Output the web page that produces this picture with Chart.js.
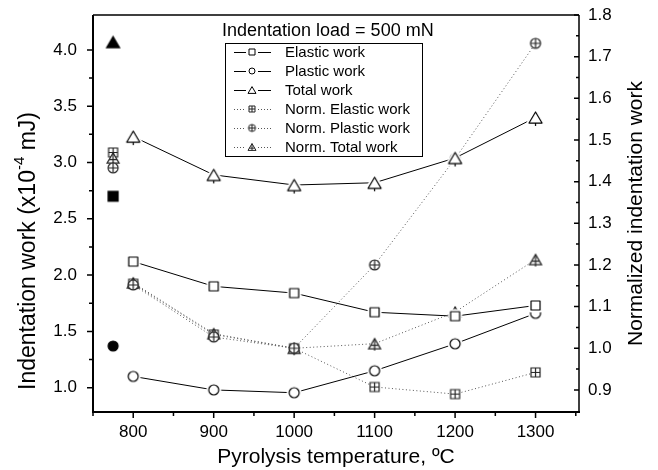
<!DOCTYPE html>
<html>
<head>
<meta charset="utf-8">
<script src="https://cdn.jsdelivr.net/npm/chart.js@4.4.1/dist/chart.umd.min.js"></script>
<style>
  body { margin: 0; background: #fff; }
  canvas { display: block; }
</style>
</head>
<body>
<canvas id="chart" width="658" height="470"></canvas>
<script>
// pyrolysis temperatures (x axis)
const temps = [800, 900, 1000, 1100, 1200, 1300];

// indentation work, x10^-4 mJ (left axis)
const elasticWork = [2.12, 1.90, 1.84, 1.67, 1.635, 1.73];
const plasticWork = [1.10, 0.98, 0.955, 1.15, 1.39, 1.66];
const totalWork = [3.23, 2.89, 2.80, 2.82, 3.04, 3.40];

// normalized to the 1000 C sample (right axis)
const normElastic = [1.155, 1.033, 1.0, 0.907, 0.89, 0.942];
const normPlastic = [1.152, 1.027, 1.0, 1.20, 1.455, 1.732];
const normTotal = [1.157, 1.035, 1.0, 1.011, 1.087, 1.213];

// reference sample drawn at the left edge
const refTemp = 775;
const refWork = { elastic: 2.70, plastic: 1.37, total: 4.07 };
const refNorm = { elastic: 1.47, plastic: 1.433, total: 1.457 };

// tick labels
const xTicks = [800, 900, 1000, 1100, 1200, 1300];
const leftTicks = [1.0, 1.5, 2.0, 2.5, 3.0, 3.5, 4.0];
const rightTicks = [0.9, 1.0, 1.1, 1.2, 1.3, 1.4, 1.5, 1.6, 1.7, 1.8];

const legendLabels = ['Elastic work', 'Plastic work', 'Total work',
  'Norm. Elastic work', 'Norm. Plastic work', 'Norm. Total work'];

const FONT = '"Liberation Sans", Arial, Helvetica, sans-serif';

function pts(xs, ys) {
  return xs.map((x, i) => ({ x: x, y: ys[i] }));
}

// marker images, drawn once and handed to chart.js as pointStyle
function marker(shape, size, o) {
  o = o || {};
  const d = Math.ceil(size) + 12;
  const c = document.createElement('canvas');
  c.width = d; c.height = d;
  const g = c.getContext('2d');
  const m = d / 2;
  const color = o.color || '#000';
  const h = size * 0.85;
  function outline() {
    g.beginPath();
    if (shape === 'square') {
      g.rect(m - size / 2, m - size / 2, size, size);
    } else if (shape === 'circle') {
      g.arc(m, m, size / 2, 0, Math.PI * 2);
    } else {
      g.moveTo(m, m - h / 2);
      g.lineTo(m + size / 2, m + h / 2);
      g.lineTo(m - size / 2, m + h / 2);
      g.closePath();
    }
  }
  if (o.halo) {
    // white ring so the connecting line stops short of the symbol
    outline();
    g.lineJoin = 'round';
    g.lineWidth = o.halo * 2;
    g.strokeStyle = '#fff';
    g.stroke();
  }
  outline();
  g.lineWidth = o.lw || 1.2;
  g.strokeStyle = color;
  g.fillStyle = o.filled ? color : '#fff';
  g.fill();
  g.stroke();
  g.beginPath();
  if (o.plus) {
    const r = shape === 'triangle' ? h / 2 : size / 2;
    const cy = shape === 'triangle' ? m + h / 6 : m;
    g.moveTo(m - size / 2 + (shape === 'triangle' ? size / 6 : 0), cy);
    g.lineTo(m + size / 2 - (shape === 'triangle' ? size / 6 : 0), cy);
    g.moveTo(m, m - r);
    g.lineTo(m, m + r + (o.stub || 0));
  } else if (o.stub) {
    g.moveTo(m, m + h / 2);
    g.lineTo(m, m + h / 2 + o.stub);
  }
  g.stroke();
  return c;
}

const NC = '#222';
const mk = {
  sq: marker('square', 9, { halo: 2.5 }),
  ci: marker('circle', 10, { halo: 2.5 }),
  tr: marker('triangle', 13, { stub: 3, halo: 2.5 }),
  nsq: marker('square', 9, { plus: true, color: NC }),
  nci: marker('circle', 10, { plus: true, color: NC }),
  ntr: marker('triangle', 12, { plus: true, stub: 2, color: NC }),
  fsq: marker('square', 10, { filled: true }),
  fci: marker('circle', 10, { filled: true }),
  ftr: marker('triangle', 13, { filled: true }),
  lsq: marker('square', 6, { lw: 1 }),
  lci: marker('circle', 6, { lw: 1 }),
  ltr: marker('triangle', 8, { lw: 1 }),
  lnsq: marker('square', 6, { plus: true, lw: 1, color: NC }),
  lnci: marker('circle', 7, { plus: true, lw: 1, color: NC }),
  lntr: marker('triangle', 8, { plus: true, lw: 1, color: NC })
};

function solid(data, style) {
  return { data: data, yAxisID: 'y', borderColor: '#000', borderWidth: 1,
    pointStyle: style, pointRadius: 6, showLine: true };
}
function dotted(data, style) {
  return { data: data, yAxisID: 'y1', borderColor: '#555', borderWidth: 1,
    borderDash: [1, 2.5], pointStyle: style, pointRadius: 6, showLine: true };
}
function single(x, y, axis, style) {
  return { data: [{ x: x, y: y }], yAxisID: axis, showLine: false,
    pointStyle: style, pointRadius: 6 };
}

const datasets = [
  solid(pts(temps, totalWork), mk.tr),
  solid(pts(temps, elasticWork), mk.sq),
  solid(pts(temps, plasticWork), mk.ci),
  dotted(pts(temps, normPlastic), mk.nci),
  dotted(pts(temps, normTotal), mk.ntr),
  dotted(pts(temps, normElastic), mk.nsq),
  single(refTemp, refWork.total, 'y', mk.ftr),
  single(refTemp, refWork.elastic, 'y', mk.fsq),
  single(refTemp, refWork.plastic, 'y', mk.fci),
  single(refTemp, refNorm.plastic, 'y1', mk.nci),
  single(refTemp, refNorm.total, 'y1', mk.ntr),
  single(refTemp, refNorm.elastic, 'y1', mk.nsq)
];

function fixTicks(list) {
  return function (scale) { scale.ticks = list.map(v => ({ value: v })); };
}

// pin the plot box: fixed axis thickness and no extra room for edge labels
function pinScale(w, h) {
  return function (s) {
    if (w !== null) s.width = w;
    if (h !== null) s.height = h;
    s.paddingTop = 0; s.paddingBottom = 0;
    s.paddingLeft = 0; s.paddingRight = 0;
  };
}

// frame, minor ticks, axis titles and the boxed legend
const decorations = {
  id: 'decorations',
  afterDraw(chart) {
    const ctx = chart.ctx;
    const a = chart.chartArea;
    const sx = chart.scales.x, sy = chart.scales.y, sy1 = chart.scales.y1;
    ctx.save();
    ctx.strokeStyle = '#000';

    // frame
    ctx.lineWidth = 1.5;
    ctx.beginPath();
    ctx.moveTo(a.left, a.top); ctx.lineTo(a.right, a.top);
    ctx.moveTo(a.right, a.top); ctx.lineTo(a.right, a.bottom);
    ctx.stroke();
    ctx.lineWidth = 2;
    ctx.beginPath();
    ctx.moveTo(a.left, a.top); ctx.lineTo(a.left, a.bottom + 1);
    ctx.moveTo(a.left - 1, a.bottom); ctx.lineTo(a.right + 1, a.bottom);
    ctx.stroke();

    // ticks
    ctx.lineWidth = 1.5;
    ctx.beginPath();
    for (let v = 750; v <= 1350; v += 50) {
      const px = sx.getPixelForValue(v);
      const len = v % 100 === 0 ? 6 : 4;
      ctx.moveTo(px, a.bottom); ctx.lineTo(px, a.bottom + len);
    }
    for (let i = 0; i <= 12; i++) {
      const v = 1.0 + i * 0.25;
      const py = sy.getPixelForValue(v);
      const len = i % 2 === 0 ? 6 : 4;
      ctx.moveTo(a.left, py); ctx.lineTo(a.left - len, py);
    }
    for (let i = 0; i <= 18; i++) {
      const v = 0.9 + i * 0.05;
      const py = sy1.getPixelForValue(v);
      const len = i % 2 === 0 ? 5 : 3;
      ctx.moveTo(a.right, py); ctx.lineTo(a.right - len, py);
    }
    ctx.stroke();

    // axis titles
    ctx.fillStyle = '#000';
    ctx.font = '21px ' + FONT;
    ctx.textAlign = 'center';
    ctx.textBaseline = 'middle';
    ctx.fillText('Pyrolysis temperature, \u00baC', (a.left + a.right) / 2, 457);

    ctx.save();
    ctx.translate(636, (a.top + a.bottom) / 2);
    ctx.rotate(-Math.PI / 2);
    ctx.fillText('Normalized indentation work', 0, 0);
    ctx.restore();

    ctx.save();
    ctx.translate(29, 251);
    ctx.rotate(-Math.PI / 2);
    const p1 = 'Indentation work (x10', p2 = '-4', p3 = ' mJ)';
    ctx.font = '23px ' + FONT;
    const w1 = ctx.measureText(p1).width, w3 = ctx.measureText(p3).width;
    ctx.font = '15px ' + FONT;
    const w2 = ctx.measureText(p2).width;
    const x0 = -(w1 + w2 + w3) / 2;
    ctx.textAlign = 'left';
    ctx.font = '23px ' + FONT;
    ctx.fillText(p1, x0, 0);
    ctx.font = '15px ' + FONT;
    ctx.fillText(p2, x0 + w1, -9);
    ctx.font = '23px ' + FONT;
    ctx.fillText(p3, x0 + w1 + w2, 0);
    ctx.restore();

    // legend
    ctx.font = '18px ' + FONT;
    ctx.textAlign = 'left';
    ctx.fillText('Indentation load = 500 mN', 222, 31);
    ctx.lineWidth = 1;
    ctx.strokeRect(225.5, 43.5, 197, 113);
    const icons = [mk.lsq, mk.lci, mk.ltr, mk.lnsq, mk.lnci, mk.lntr];
    ctx.font = '15px ' + FONT;
    legendLabels.forEach((label, i) => {
      const y = 52 + i * 19;
      ctx.beginPath();
      ctx.strokeStyle = i < 3 ? '#000' : '#555';
      ctx.setLineDash(i < 3 ? [] : [1, 2]);
      ctx.moveTo(234, y + 0.5); ctx.lineTo(246, y + 0.5);
      ctx.moveTo(258, y + 0.5); ctx.lineTo(271, y + 0.5);
      ctx.stroke();
      ctx.setLineDash([]);
      const ic = icons[i];
      ctx.drawImage(ic, 252 - ic.width / 2, y - ic.height / 2);
      ctx.fillText(label, 285, y + 1);
    });
    ctx.restore();
  }
};

new Chart(document.getElementById('chart'), {
  type: 'scatter',
  data: { datasets: datasets },
  options: {
    responsive: false,
    animation: false,
    layout: { padding: { top: 15, left: 0, right: 0, bottom: 0 } },
    plugins: { legend: { display: false }, tooltip: { enabled: false } },
    scales: {
      x: {
        type: 'linear', min: 750, max: 1354,
        grid: { display: false, drawTicks: false },
        border: { display: false },
        afterBuildTicks: fixTicks(xTicks),
        afterFit: pinScale(null, 58),
        ticks: { padding: 10, color: '#000', font: { family: FONT, size: 17 },
          callback: v => String(v) }
      },
      y: {
        position: 'left', min: 0.784, max: 4.31,
        grid: { display: false, drawTicks: false },
        border: { display: false },
        afterBuildTicks: fixTicks(leftTicks),
        afterFit: pinScale(93, null),
        ticks: { padding: 16, color: '#000', font: { family: FONT, size: 17 },
          callback: v => v.toFixed(1) }
      },
      y1: {
        position: 'right', min: 0.847, max: 1.8,
        grid: { display: false, drawTicks: false },
        border: { display: false },
        afterBuildTicks: fixTicks(rightTicks),
        afterFit: pinScale(79, null),
        ticks: { padding: 9, color: '#000', font: { family: FONT, size: 17 },
          callback: v => v.toFixed(1) }
      }
    }
  },
  plugins: [decorations]
});
</script>
</body>
</html>
